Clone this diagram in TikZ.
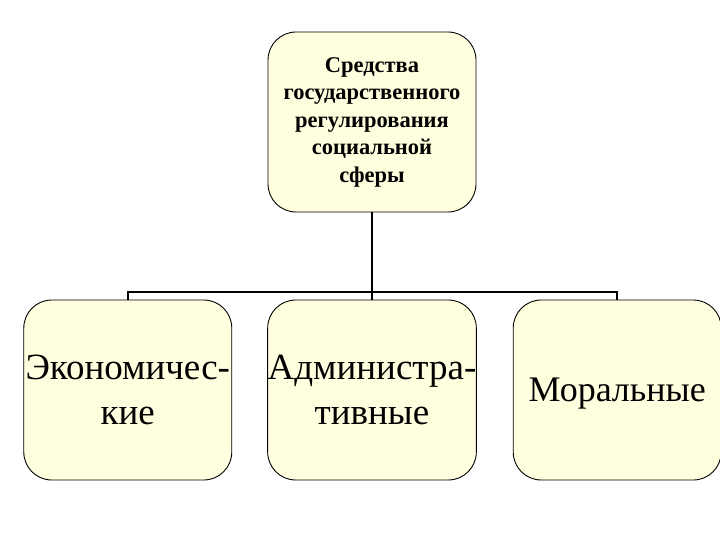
\documentclass[tikz,border=0pt]{standalone}
\usepackage{fontspec}
\setmainfont{Liberation Serif}
\usetikzlibrary{positioning}
\definecolor{boxfill}{HTML}{FFFFE0}
\tikzset{
  means/.style={draw=black, line width=0.9pt, fill=boxfill, rounded corners=28pt,
    minimum width=208pt, minimum height=180pt, inner sep=0pt, align=center},
  topfont/.style={font=\bfseries\fontsize{22.5}{27.5}\selectfont},
  kindfont/.style={font=\fontsize{37}{45}\selectfont},
  stem/.style={line width=2.6pt},
  bus/.style={line width=2pt}
}
\begin{document}
\begin{tikzpicture}[x=1pt, y=-1pt]
  \useasboundingbox (0,0) rectangle (720,540);
  % Top box
  \node[means, topfont] (tools) at (372,122)
    {Средства\\государственного\\регулирования\\социальной\\сферы};
  % Three kinds
  \node[means, kindfont] (admin) at (372,390) {Администра-\\тивные};
  \node[means, kindfont, left=35pt of admin] (econ) {Экономичес-\\кие};
  \node[means, kindfont, font=\fontsize{36}{45}\selectfont, text depth=0pt,
    right=36pt of admin] (moral) {Моральные};
  % Connectors
  \coordinate (junction) at (372,292);
  \draw[stem] (tools.south) -- (admin.north);
  \draw[bus] (econ.north) |- (junction) -| (moral.north);
\end{tikzpicture}
\end{document}
